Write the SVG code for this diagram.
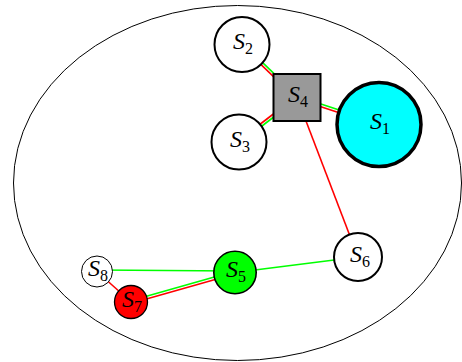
<svg xmlns="http://www.w3.org/2000/svg" width="462" height="362" viewBox="0 0 462 362">
<style>
.n{stroke:#000}
.lbl{font-family:"Liberation Serif","DejaVu Serif",serif;font-size:24px;text-anchor:middle;fill:#000}
.s{font-style:italic}
.sub{font-size:16px;font-style:normal}
.r{stroke:#ff0000;stroke-width:1.6;fill:none}
.g{stroke:#00ff00;stroke-width:1.6;fill:none}
</style>
<rect width="462" height="362" fill="#fff"/>
<ellipse cx="237.5" cy="183" rx="224" ry="177.5" fill="none" stroke="#000" stroke-width="1"/>
<g id="connectors">
<line class="r" x1="241.1" y1="45.4" x2="296.1" y2="98.4"/>
<line class="g" x1="242.9" y1="43.6" x2="297.9" y2="96.6"/>
<line class="r" x1="296.6" y1="98.7" x2="378.6" y2="125.7"/>
<line class="g" x1="297.4" y1="96.3" x2="379.4" y2="123.3"/>
<line class="r" x1="296.2" y1="96.5" x2="238.2" y2="141"/>
<line class="g" x1="297.8" y1="98.5" x2="239.8" y2="143"/>
<line class="r" x1="297" y1="97.5" x2="358" y2="257"/>
<line class="g" x1="97" y1="270" x2="235" y2="271"/>
<line class="g" x1="235" y1="272.5" x2="358" y2="257"/>
<line class="g" x1="130.6" y1="300.8" x2="234.6" y2="271.3"/>
<line class="r" x1="131.4" y1="303.2" x2="235.4" y2="273.7"/>
<line class="r" x1="97" y1="271.5" x2="131" y2="302"/>
</g>
<g id="S2"><circle class="n" cx="242" cy="44.5" r="27.5" fill="#fff" stroke-width="2"/><text class="lbl" x="243" y="49"><tspan class="s">S</tspan><tspan class="sub" dy="5">2</tspan></text></g>
<g id="S3"><circle class="n" cx="239" cy="142" r="27.5" fill="#fff" stroke-width="2"/><text class="lbl" x="240" y="146.5"><tspan class="s">S</tspan><tspan class="sub" dy="5">3</tspan></text></g>
<g id="S4"><rect class="n" x="273.5" y="74" width="47" height="47" fill="#999999" stroke-width="2"/><text class="lbl" x="298" y="102"><tspan class="s">S</tspan><tspan class="sub" dy="5">4</tspan></text></g>
<g id="S1"><circle class="n" cx="379" cy="124.5" r="42" fill="#00ffff" stroke-width="3.5"/><text class="lbl" x="380" y="129"><tspan class="s">S</tspan><tspan class="sub" dy="5">1</tspan></text></g>
<g id="S6"><circle class="n" cx="358" cy="257" r="24" fill="#fff" stroke-width="2"/><text class="lbl" x="360" y="261.5"><tspan class="s">S</tspan><tspan class="sub" dy="5">6</tspan></text></g>
<g id="S5"><circle class="n" cx="235" cy="272.5" r="21.2" fill="#00ff00" stroke-width="1.6"/><text class="lbl" x="236" y="277"><tspan class="s">S</tspan><tspan class="sub" dy="5">5</tspan></text></g>
<g id="S8"><circle class="n" cx="97" cy="271.5" r="15.5" fill="#fff" stroke-width="1"/><text class="lbl" x="98" y="276"><tspan class="s">S</tspan><tspan class="sub" dy="5">8</tspan></text></g>
<g id="S7"><circle class="n" cx="131" cy="302" r="16.5" fill="#ff0000" stroke-width="1.3"/><text class="lbl" x="132" y="306.5"><tspan class="s">S</tspan><tspan class="sub" dy="5">7</tspan></text></g>
</svg>
